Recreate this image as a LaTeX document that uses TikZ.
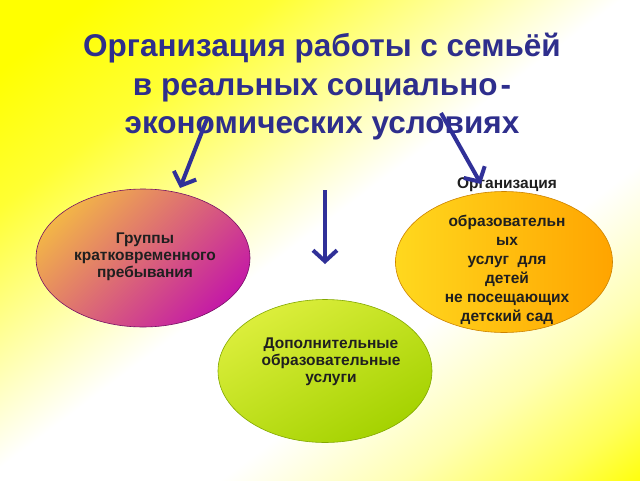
\documentclass[tikz,border=0pt]{standalone}
\usepackage{fontspec}
\setmainfont{Liberation Sans}
\usetikzlibrary{shapes.geometric,arrows.meta}
\definecolor{titleblue}{RGB}{46,46,140}
\definecolor{arrowblue}{RGB}{48,48,152}
\definecolor{grpA}{RGB}{242,180,72}
\definecolor{grpB}{RGB}{196,26,166}
\definecolor{dopA}{RGB}{220,238,60}
\definecolor{dopB}{RGB}{164,210,0}
\definecolor{orgA}{RGB}{255,216,30}
\definecolor{orgB}{RGB}{255,164,0}
\definecolor{bgyel}{RGB}{255,255,0}
\pgfdeclarehorizontalshading{bgband}{100bp}{color(0bp)=(bgyel); color(20bp)=(bgyel); color(30bp)=(bgyel!80!white); color(42bp)=(bgyel!30!white); color(49bp)=(white); color(62bp)=(white); color(72bp)=(bgyel!30!white); color(80bp)=(bgyel!65!white); color(86bp)=(bgyel); color(100bp)=(bgyel)}
\tikzset{
  oval/.style={ellipse, line width=0.6pt, minimum width=214pt, minimum height=138pt, inner sep=0pt},
  otext/.style={align=center, text=black!88, font=\bfseries\fontsize{15.5}{17}\selectfont},
  heading/.style={align=center, text=titleblue, font=\bfseries\fontsize{31.5}{38.5}\selectfont},
  pointer/.style={arrowblue, line width=4pt, -{Straight Barb[length=11pt,width=24pt]}},
}
\begin{document}
\begin{tikzpicture}[x=1pt,y=-1pt]
  \useasboundingbox (0,0) rectangle (640,480);
  \shade[shading=bgband, shading angle=-53] (0,0) rectangle (640,480);

  \node[heading] (ttl) at (322,87) {Организация работы с семьёй\\в реальных социально\kern3pt-\\экономических условиях};

  \node[oval, draw=grpB!60!black, top color=grpA, bottom color=grpB, middle color=grpA!50!grpB, shading angle=45] (grp) at (143,258) {};
  \node[otext] (grptxt) at (145,257) {Группы\\кратковременного\\пребывания};

  \node[oval, draw=dopB!80!black, minimum height=143pt, top color=dopA, bottom color=dopB, shading angle=30] (dop) at (325,371) {};
  \node[otext] (doptxt) at (331,362) {Дополнительные\\образовательные\\услуги};

  \node[oval, draw=orgB!80!black, minimum width=217pt, minimum height=141pt, left color=orgA, right color=orgB] (org) at (504,262) {};
  \node[otext, font=\bfseries\fontsize{15.5}{19}\selectfont] (orgtxt) at (507,251) {Организация\\[19pt]образовательн\\ых\\услуг \ для\\детей\\не посещающих\\детский сад};

  \coordinate (grpfrom) at (207,119);
  \coordinate (grpto) at (180,188);
  \coordinate (dopfrom) at (325,190);
  \coordinate (dopto) at (325,264);
  \coordinate (orgfrom) at (441,113);
  \coordinate (orgto) at (481,184);
  \draw[pointer] (grpfrom) -- (grpto);
  \draw[pointer] (dopfrom) -- (dopto);
  \draw[pointer] (orgfrom) -- (orgto);
\end{tikzpicture}
\end{document}
